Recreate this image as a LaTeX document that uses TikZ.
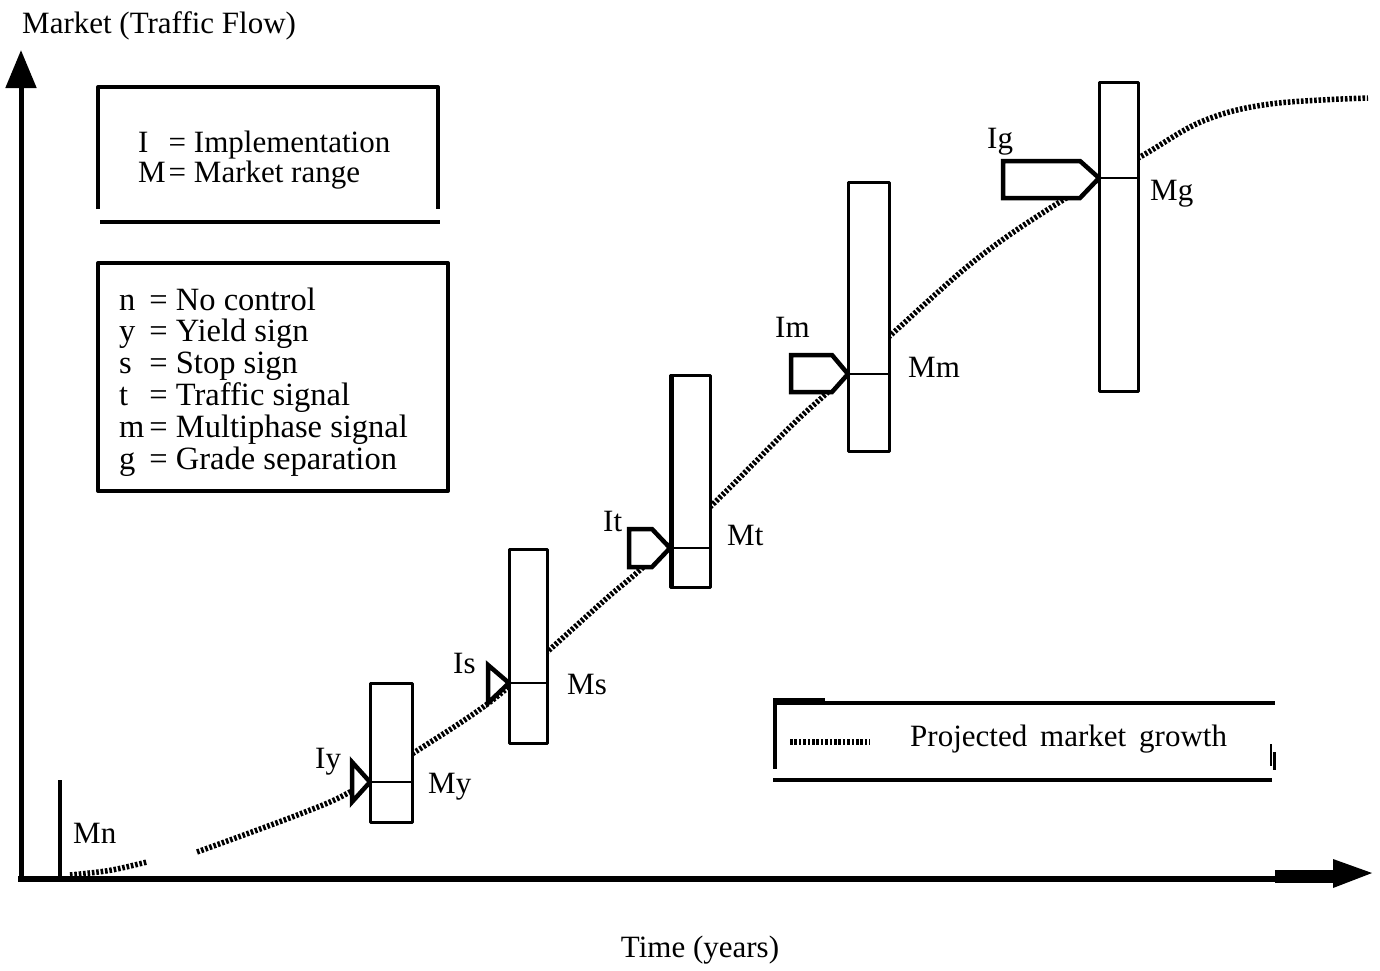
\documentclass[tikz,border=0pt]{standalone}
\usepackage{fontspec}
\setmainfont{Liberation Serif}
\usetikzlibrary{arrows.meta}
\tikzset{
  axisline/.style={line width=5pt},
  framelines/.style={line width=4pt},
  rangebox/.style={draw, line width=3pt, fill=white},
  divider/.style={line width=2.5pt},
  implmark/.style={draw, line width=4.5pt, fill=white, line join=miter},
  growth/.style={line width=5.5pt, dash pattern=on 2.6pt off 1.8pt},
  lbl/.style={inner sep=0pt, font=\fontsize{31}{32}\selectfont}
}
\begin{document}
\begin{tikzpicture}[x=1pt, y=-1pt, line join=round]
    \useasboundingbox (0,0) rectangle (1380,970);

    % Axes
    \coordinate (Xstart) at (18,879);
    \coordinate (Xend) at (1335,879);
    \coordinate (Ybot) at (21,881);
    \coordinate (Ytop) at (21,50);
    \draw[axisline, -{Triangle[length=38pt, width=30pt]}] (Ybot) -- (Ytop);
    \draw[line width=6pt] (Xstart) -- (Xend);
    \fill (1275,870) rectangle (1335,883);
    \fill (1333,859) -- (1372,873) -- (1333,888) -- cycle;

    % Axis titles
    \node[lbl, anchor=base west] (ytitle) at (22,33) {Market (Traffic Flow)};
    \node[lbl, anchor=base] (xtitle) at (700,957) {Time (years)};

    % Legend boxes
    \draw[framelines] (98,209) -- (98,87) -- (438,87) -- (438,209);
    \draw[framelines] (100,222) -- (440,222);
    \node[lbl, anchor=base west] (keyIM) at (138,152)
      {\fontsize{31}{29}\selectfont\begin{tabular}[t]{@{}l@{\hspace{3pt}}l@{}}
        I & = Implementation\\
        M & = Market range
      \end{tabular}};

    \draw[framelines] (98,263) rectangle (448,491);
    \node[lbl, anchor=base west] (keyctrl) at (119,310)
      {\fontsize{32.5}{31.4}\selectfont\begin{tabular}[t]{@{}l@{\hspace{5pt}}l@{}}
        n & = No control\\
        y & = Yield sign\\
        s & = Stop sign\\
        t & = Traffic signal\\
        m & = Multiphase signal\\
        g & = Grade separation
      \end{tabular}};

    % Projected market growth curve
    \draw[growth] (70,875) .. controls (110,871) .. (147,862);
    \draw[growth] plot[smooth, tension=0.6] coordinates {
      (197,852) (300,814) (350,792) (415,752) (490,702) (547,652)
      (607,598) (640,570) (712,505) (790,427) (827,393) (893,333)
      (978,258) (1063,200) (1140,157) (1203,121) (1270,104) (1368,98)};

    % No control
    \draw[line width=3.5pt] (60,780) -- (60,879);
    \node[lbl, anchor=base west] (Mn) at (73,843) {Mn};

    % Yield sign
    \draw[rangebox] (370,683) rectangle (412,822);
    \draw[divider] (370,782) -- (412,782);
    \draw[implmark] (352,762) -- (370,782) -- (352,802) -- cycle;
    \node[lbl, anchor=base west] (Iy) at (315,768) {Iy};
    \node[lbl, anchor=base west] (My) at (428,793) {My};

    % Stop sign
    \draw[rangebox] (509,549) rectangle (547,743);
    \draw[divider] (509,683) -- (547,683);
    \draw[implmark] (488,665) -- (509,683) -- (488,703) -- cycle;
    \node[lbl, anchor=base west] (Is) at (453,673) {Is};
    \node[lbl, anchor=base west] (Ms) at (567,694) {Ms};

    % Traffic signal
    \draw[rangebox] (670,375) rectangle (710,587);
    \draw[line width=5pt] (671,375) -- (671,587);
    \draw[divider] (670,548) -- (710,548);
    \draw[implmark] (629,529) -- (652,529) -- (670,548) -- (652,567) -- (629,567) -- cycle;
    \node[lbl, anchor=base west] (It) at (603,531) {It};
    \node[lbl, anchor=base west] (Mt) at (727,545) {Mt};

    % Multiphase signal
    \draw[rangebox] (848,182) rectangle (889,451);
    \draw[divider] (848,374) -- (889,374);
    \draw[implmark] (791,355) -- (832,355) -- (848,374) -- (832,392) -- (791,392) -- cycle;
    \node[lbl, anchor=base west] (Im) at (775,337) {Im};
    \node[lbl, anchor=base west] (Mm) at (908,377) {Mm};

    % Grade separation
    \draw[rangebox] (1099,82) rectangle (1138,391);
    \draw[divider] (1099,178) -- (1138,178);
    \draw[implmark] (1003,161) -- (1080,161) -- (1099,178) -- (1080,198) -- (1003,198) -- cycle;
    \node[lbl, anchor=base west] (Ig) at (987,148) {Ig};
    \node[lbl, anchor=base west] (Mg) at (1150,200) {Mg};

    % Growth legend
    \draw[framelines] (773,703) -- (1275,703);
    \draw[framelines] (773,700) -- (825,700);
    \draw[framelines] (775,703) -- (775,769);
    \draw[framelines] (773,780) -- (1272,780);
    \draw[line width=2pt] (1271,744) -- (1271,766);
    \draw[line width=3pt] (1274,752) -- (1274,770);
    \draw[growth] (790,742) -- (870,742);
    \node[lbl, anchor=base west] (growthkey) at (910,746) {Projected\, market\, growth};
\end{tikzpicture}
\end{document}
